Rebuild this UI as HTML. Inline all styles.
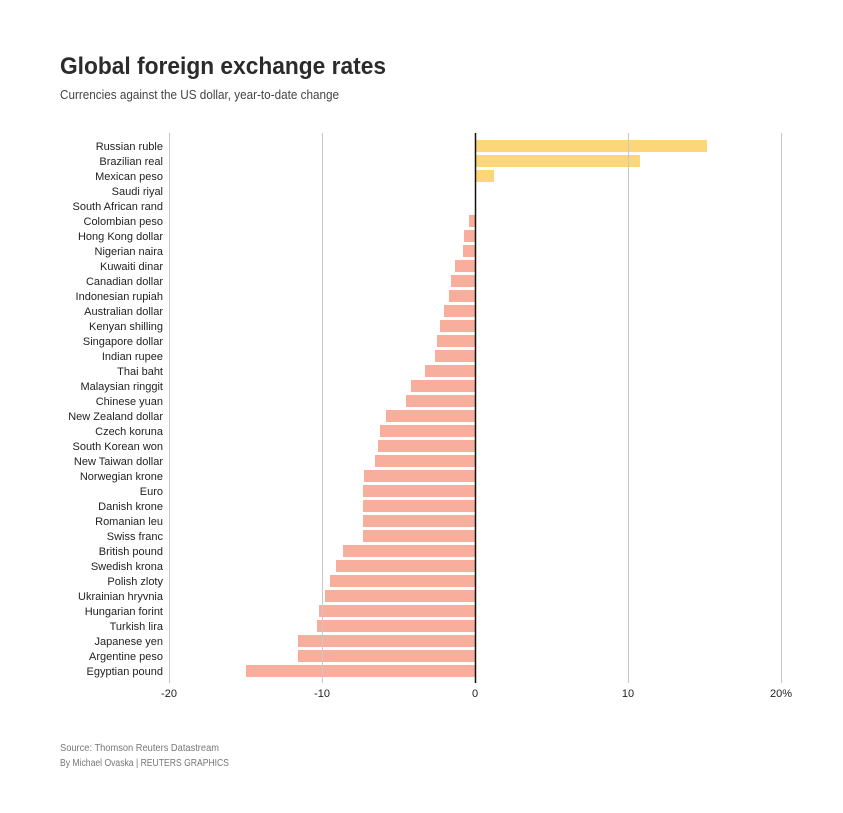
<!DOCTYPE html>
<html><head><meta charset="utf-8"><style>
html,body{margin:0;padding:0;background:#fff;}
svg{display:block;font-family:"Liberation Sans",sans-serif;}
</style></head><body>
<svg width="843" height="813" viewBox="0 0 843 813" xmlns="http://www.w3.org/2000/svg">
<text x="60" y="74" font-size="24" font-weight="bold" fill="#2b2b2b" textLength="326" lengthAdjust="spacingAndGlyphs">Global foreign exchange rates</text>
<text x="60" y="99" font-size="12.5" fill="#444" textLength="279" lengthAdjust="spacingAndGlyphs">Currencies against the US dollar, year-to-date change</text>
<g id="bars"></g>
<g stroke="#c8c8c8" stroke-width="1">
<line x1="169.5" y1="133" x2="169.5" y2="683"/>
<line x1="322.5" y1="133" x2="322.5" y2="683"/>
<line x1="628.5" y1="133" x2="628.5" y2="683"/>
<line x1="781.5" y1="133" x2="781.5" y2="683"/>
</g>
<line x1="475.5" y1="133" x2="475.5" y2="683" stroke="#111" stroke-width="1.5"/>
<g font-size="11" fill="#222" text-anchor="middle">
<text x="169" y="697">-20</text><text x="322" y="697">-10</text><text x="475" y="697">0</text><text x="628" y="697">10</text><text x="781" y="697">20%</text>
</g>
<g id="labels" font-size="11" fill="#222" text-anchor="end"></g>
<text x="60" y="751" font-size="10" fill="#777" textLength="159" lengthAdjust="spacingAndGlyphs">Source: Thomson Reuters Datastream</text>
<text x="60" y="766" font-size="10" fill="#777" textLength="169" lengthAdjust="spacingAndGlyphs">By Michael Ovaska | REUTERS GRAPHICS</text>
<script>
var d=[["Russian ruble",707],["Brazilian real",640],["Mexican peso",494],["Saudi riyal",475],["South African rand",475],["Colombian peso",469],["Hong Kong dollar",464],["Nigerian naira",463],["Kuwaiti dinar",455],["Canadian dollar",451],["Indonesian rupiah",449],["Australian dollar",444],["Kenyan shilling",440],["Singapore dollar",437],["Indian rupee",435],["Thai baht",425],["Malaysian ringgit",411],["Chinese yuan",406],["New Zealand dollar",386],["Czech koruna",380],["South Korean won",378],["New Taiwan dollar",375],["Norwegian krone",364],["Euro",363],["Danish krone",363],["Romanian leu",363],["Swiss franc",363],["British pound",343],["Swedish krona",336],["Polish zloty",330],["Ukrainian hryvnia",325],["Hungarian forint",319],["Turkish lira",317],["Japanese yen",298],["Argentine peso",298],["Egyptian pound",246]];
var ns="http://www.w3.org/2000/svg",b=document.getElementById("bars"),l=document.getElementById("labels");
d.forEach(function(r,i){var c=146+i*15;
if(r[1]!=475){var e=document.createElementNS(ns,"rect");var x0=Math.min(475,r[1]),w=Math.abs(r[1]-475);
e.setAttribute("x",x0);e.setAttribute("y",c-6);e.setAttribute("width",w);e.setAttribute("height",12);
e.setAttribute("fill",r[1]>475?"#fdd67a":"#f7ae9d");b.appendChild(e);}
var t=document.createElementNS(ns,"text");t.setAttribute("x",163);t.setAttribute("y",c+4);t.textContent=r[0];l.appendChild(t);});
</script>
</svg>
</body></html>
